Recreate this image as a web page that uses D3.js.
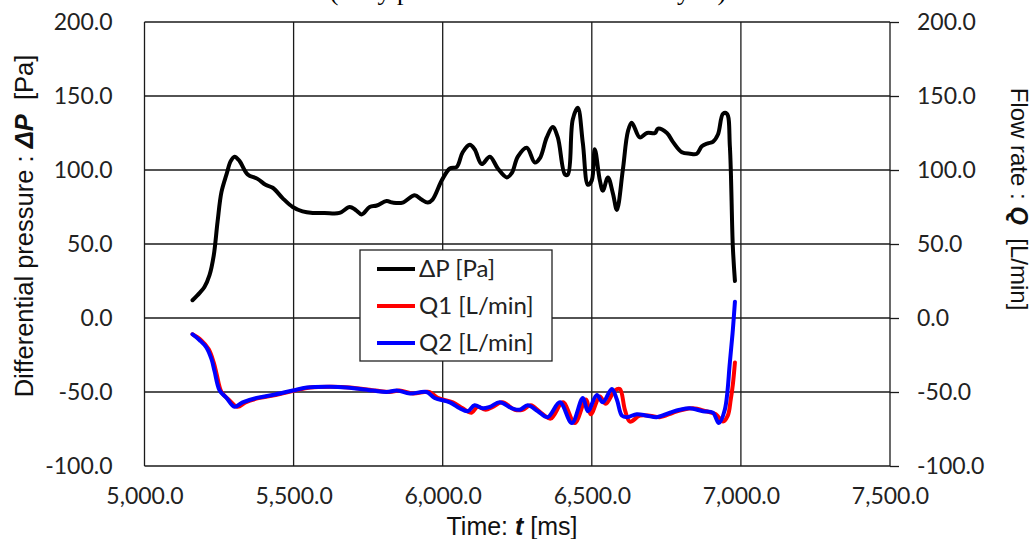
<!DOCTYPE html>
<html>
<head>
<meta charset="utf-8">
<script src="https://cdn.jsdelivr.net/npm/d3@7"></script>
<style>
  body { margin: 0; background: #fff; }
  svg { display: block; }
</style>
</head>
<body>
<div class="viz"></div>
<script>
// values
const xTicks = [5000, 5500, 6000, 6500, 7000, 7500]
const yTicks = [-100, -50, 0, 50, 100, 150, 200]

// differential pressure dP [Pa]
const dpTime = [5161, 5185, 5201, 5218, 5232, 5245, 5258, 5275, 5289, 5302, 5319, 5346, 5379, 5406, 5430, 5463, 5497, 5530, 5564, 5604,
  5654, 5688, 5708, 5728, 5755, 5779, 5812, 5832, 5866, 5906, 5929, 5950, 5966, 5997, 6024, 6047, 6067, 6091, 6107, 6131,
  6158, 6185, 6215, 6232, 6252, 6282, 6309, 6326, 6349, 6369, 6386, 6410, 6420, 6436, 6453, 6470, 6487, 6500, 6510, 6527,
  6537, 6554, 6571, 6584, 6604, 6621, 6634, 6661, 6685, 6712, 6722, 6752, 6772, 6802, 6829, 6852, 6869, 6889, 6906, 6923,
  6940, 6953, 6963, 6973, 6980]
const dpValues = [12, 17, 21, 29, 42, 65, 85, 97, 106, 109, 106, 97, 94, 90, 88, 81, 75, 72, 71, 71,
  71, 75, 73, 70, 75, 76, 79, 78, 78, 83, 80, 78, 80, 93, 101, 102, 112, 117, 114, 104,
  109, 101, 95, 98, 109, 115, 105, 108, 122, 129, 122, 97, 97, 134, 142, 118, 90, 93, 114, 93,
  86, 95, 84, 73, 100, 126, 132, 122, 125, 125, 128, 125, 119, 112, 111, 111, 116, 118, 119, 124,
  138, 138, 116, 48, 25]

// flow rate Q1 [L/min]
const q1Time = [5161, 5190, 5215, 5232, 5242, 5258, 5282, 5312, 5339, 5386, 5440, 5505, 5555, 5630, 5688, 5775, 5822, 5855, 5900, 5955,
  5983, 6034, 6067, 6097, 6117, 6144, 6168, 6200, 6242, 6268, 6295, 6329, 6362, 6403, 6443, 6480, 6497, 6527, 6547, 6577,
  6594, 6611, 6628, 6661, 6695, 6728, 6772, 6805, 6839, 6883, 6916, 6940, 6956, 6966, 6973, 6980]
const q1Values = [-11, -15, -21, -30, -38, -50, -55, -60, -57, -54, -52, -49, -47, -46.5, -47, -49, -50, -49, -51, -50,
  -54, -57, -61, -64, -60, -62, -60, -57, -62, -62, -59, -64, -68, -57, -71, -55, -65, -53, -58, -49,
  -48, -62, -70, -66, -66, -67, -64, -62, -61, -63, -65, -70, -66, -55, -45, -30]

// flow rate Q2 [L/min]
const q2Time = [5161, 5185, 5208, 5225, 5235, 5252, 5275, 5302, 5329, 5376, 5430, 5497, 5544, 5621, 5678, 5765, 5812, 5846, 5890, 5946,
  5973, 6024, 6057, 6084, 6107, 6134, 6158, 6191, 6232, 6258, 6285, 6319, 6352, 6393, 6433, 6470, 6487, 6517, 6537, 6567,
  6584, 6601, 6618, 6651, 6685, 6718, 6762, 6795, 6829, 6873, 6906, 6926, 6946, 6963, 6973, 6980]
const q2Values = [-11, -15, -20, -28, -36, -49, -54, -60, -57, -54, -52, -49, -47, -46.5, -47, -49, -50, -49, -51, -50,
  -54, -57, -61, -63, -59, -61, -60, -57, -61, -62, -59, -63, -67, -57, -71, -54, -63, -52, -57, -48,
  -55, -66, -67, -65, -66, -67, -64, -62, -61, -63, -64, -71, -62, -30, -8, 11]

const seriesNames = ['\u0394P [Pa]', 'Q1 [L/min]', 'Q2 [L/min]']
const seriesColors = ['#000000', '#ff0000', '#0000ff']

const width = 1033
const height = 539
const plotLeft = 144.5
const plotRight = 890
const plotTop = 22
const plotBottom = 466

const svg = d3.select('.viz')
  .append('svg')
  .attr('width', width)
  .attr('height', height)

const x = d3.scaleLinear().domain([5000, 7500]).range([plotLeft, plotRight])
const yL = d3.scaleLinear().domain([-100, 200]).range([plotBottom, plotTop])
const yR = d3.scaleLinear().domain([-100, 200]).range([plotBottom, plotTop])

// excel style labels, plain hyphen for negatives
const fmt = d3.formatLocale({ decimal: '.', thousands: ',', grouping: [3], currency: ['', ''], minus: '-' })
const xFmt = fmt.format(',.1f')
const yFmt = fmt.format('.1f')

// title, mostly cut off at the top edge
svg.append('text')
  .text('(Only pressure and flow rate analysis)')
  .attr('x', 528)
  .attr('y', 0)
  .attr('text-anchor', 'middle')
  .attr('font-family', 'Liberation Serif')
  .attr('font-size', 26)

// grid
svg.append('g')
  .selectAll('line')
  .data(xTicks)
  .enter()
  .append('line')
  .attr('x1', d => x(d)).attr('x2', d => x(d))
  .attr('y1', plotTop).attr('y2', plotBottom)
  .attr('stroke', '#1a1a1a').attr('stroke-width', 1.3)

svg.append('g')
  .selectAll('line')
  .data(yTicks)
  .enter()
  .append('line')
  .attr('x1', plotLeft).attr('x2', plotRight)
  .attr('y1', d => yL(d)).attr('y2', d => yL(d))
  .attr('stroke', '#1a1a1a').attr('stroke-width', 1.3)

// axes
const tickFont = g => g.selectAll('text')
  .attr('font-family', 'Lato')
  .attr('font-size', 23)
  .attr('fill', '#222')

svg.append('g')
  .attr('transform', `translate(0,${plotBottom})`)
  .call(d3.axisBottom(x).tickValues(xTicks).tickSize(0).tickPadding(22).tickFormat(xFmt))
  .call(g => g.select('.domain').remove())
  .call(tickFont)

svg.append('g')
  .attr('transform', `translate(${plotLeft},0)`)
  .call(d3.axisLeft(yL).tickValues(yTicks).tickSize(0).tickPadding(32).tickFormat(yFmt))
  .call(g => g.select('.domain').remove())
  .call(tickFont)

svg.append('g')
  .attr('transform', `translate(${plotRight},0)`)
  .call(d3.axisRight(yR).tickValues(yTicks).tickSize(9).tickPadding(18).tickFormat(yFmt))
  .call(g => g.select('.domain').remove())
  .call(g => g.selectAll('line').attr('stroke', '#1a1a1a').attr('stroke-width', 1.3))
  .call(tickFont)

// axis titles
const yTitle = svg.append('text')
  .attr('transform', `translate(33,226) rotate(-90)`)
  .attr('text-anchor', 'middle')
  .attr('font-family', 'Liberation Sans')
  .attr('font-size', 25.5)
  .attr('fill', '#111')
yTitle.append('tspan').text('Differential pressure : ')
yTitle.append('tspan').text('\u0394P').attr('font-weight', 'bold').attr('font-style', 'italic')
yTitle.append('tspan').text('\u00a0 [Pa]')

const y2Title = svg.append('text')
  .attr('transform', `translate(1011,199) rotate(90)`)
  .attr('text-anchor', 'middle')
  .attr('font-family', 'Liberation Sans')
  .attr('font-size', 24)
  .attr('fill', '#111')
y2Title.append('tspan').text('Flow rate : ')
y2Title.append('tspan').text('Q').attr('font-weight', 'bold').attr('font-style', 'italic')
y2Title.append('tspan').text('\u00a0 [L/min]')

const xTitle = svg.append('text')
  .attr('x', 512)
  .attr('y', 535)
  .attr('text-anchor', 'middle')
  .attr('font-family', 'Liberation Sans')
  .attr('font-size', 25)
  .attr('fill', '#111')
xTitle.append('tspan').text('Time: ')
xTitle.append('tspan').text('t').attr('font-weight', 'bold').attr('font-style', 'italic')
xTitle.append('tspan').text(' [ms]')

// data lines
const lineL = d3.line()
  .x(d => x(d[0]))
  .y(d => yL(d[1]))
  .curve(d3.curveCatmullRom.alpha(0.5))
const lineR = d3.line()
  .x(d => x(d[0]))
  .y(d => yR(d[1]))
  .curve(d3.curveCatmullRom.alpha(0.5))

const series = [
  { pts: d3.zip(dpTime, dpValues), line: lineL, color: seriesColors[0] },
  { pts: d3.zip(q1Time, q1Values), line: lineR, color: seriesColors[1] },
  { pts: d3.zip(q2Time, q2Values), line: lineR, color: seriesColors[2] }
]

svg.append('g')
  .selectAll('path')
  .data(series)
  .enter()
  .append('path')
  .attr('d', d => d.line(d.pts))
  .attr('fill', 'none')
  .attr('stroke', d => d.color)
  .attr('stroke-width', 4)
  .attr('stroke-linejoin', 'round')
  .attr('stroke-linecap', 'round')

// legend
const legend = svg.append('g')
legend.append('rect')
  .attr('x', 360).attr('y', 250)
  .attr('width', 192).attr('height', 111)
  .attr('fill', '#fff')
  .attr('stroke', '#222').attr('stroke-width', 1.3)

const items = legend.selectAll('g.item')
  .data(seriesNames)
  .enter()
  .append('g')
  .attr('class', 'item')
  .attr('transform', (d, i) => `translate(0,${269 + i * 37})`)

items.append('line')
  .attr('x1', 377).attr('x2', 415)
  .attr('stroke', (d, i) => seriesColors[i])
  .attr('stroke-width', 4)

items.append('text')
  .text(d => d)
  .attr('x', 419)
  .attr('y', 8)
  .attr('font-family', 'Lato')
  .attr('font-size', 24)
  .attr('fill', '#222')
</script>
</body>
</html>
